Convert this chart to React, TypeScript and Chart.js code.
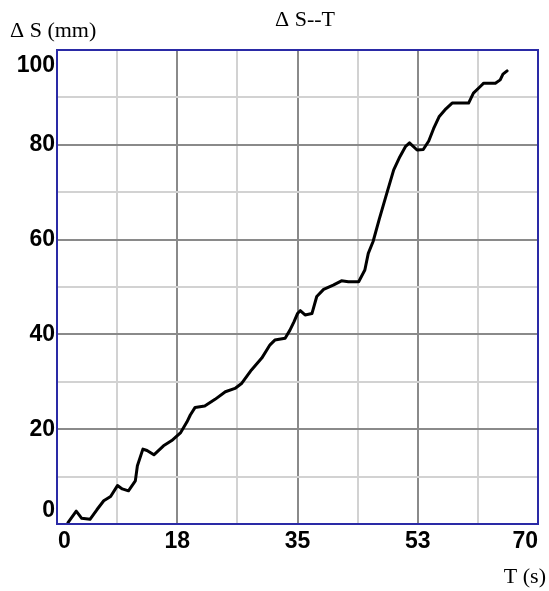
import { useEffect, useRef } from "react";
import { Chart, registerables } from "chart.js";

Chart.register(...registerables);

// ---- data ----
const timeValues = [
  1.6, 2.8, 3.6, 4.8, 5.8, 6.8, 7.8, 8.8, 9.5, 10.4, 11.4, 11.7, 12.5, 13.1, 14.1, 15.5, 16.7, 18.0,
  18.9, 19.4, 20.1, 21.5, 23.0, 24.5, 25.9, 26.9, 28.3, 29.8, 31.0, 31.7, 33.2, 33.9, 34.5, 35.0,
  35.4, 36.1, 37.1, 37.8, 38.8, 40.2, 41.4, 42.4, 43.9, 44.8, 45.3, 46.0, 46.9, 47.8, 49.0, 49.9,
  50.7, 51.3, 52.4, 53.3, 54.1, 54.8, 55.6, 56.6, 57.5, 58.5, 59.9, 60.6, 61.6, 62.1, 63.8, 64.5,
  64.9, 65.5,
];
const displacementValues = [
  0.3, 2.7, 1.2, 1.0, 3.0, 4.9, 5.8, 8.1, 7.4, 7.0, 9.1, 12.3, 15.8, 15.5, 14.6, 16.5, 17.6, 19.3,
  21.5, 23.0, 24.6, 24.9, 26.3, 27.9, 28.6, 29.7, 32.5, 35.0, 37.8, 38.8, 39.2, 40.9, 42.7, 44.4,
  45.0, 44.1, 44.4, 48.0, 49.5, 50.4, 51.3, 51.1, 51.1, 53.6, 57.1, 59.6, 64.3, 68.8, 74.7, 77.5,
  79.6, 80.4, 78.9, 79.0, 80.8, 83.4, 85.9, 87.6, 88.8, 88.8, 88.8, 90.9, 92.3, 93.0, 93.0, 93.7,
  94.9, 95.6,
];
const xTickLabels = ["0", "18", "35", "53", "70"];
const yTickLabels = ["0", "20", "40", "60", "80", "100"];
const xMax = 70;
const xGridStep = 8.75;
const yMax = 100;
const yGridStep = 10;
const chartTitle = "Δ S--T";
const yAxisTitle = "Δ S (mm)";
const xAxisTitle = "T (s)";

const DARK = "#8a8a8a";
const LIGHT = "#d2d2d2";
const FRAME = "#2a2aa6";

function gridTicks(max: number, step: number) {
  const out: { value: number }[] = [];
  const n = Math.round(max / step);
  for (let i = 0; i <= n; i++) out.push({ value: i * step });
  return out;
}

export default function App() {
  const ref = useRef<HTMLCanvasElement>(null);

  useEffect(() => {
    const prev = document.body.style.margin;
    document.body.style.margin = "0";
    const canvas = ref.current;
    if (!canvas) return;

    const textPlugin = {
      id: "textPlugin",
      afterDraw(chart: any) {
        const { ctx, chartArea: a, scales } = chart;
        const xs = scales.x;
        const ys = scales.y;
        ctx.save();
        // frame
        ctx.strokeStyle = FRAME;
        ctx.lineWidth = 2;
        ctx.strokeRect(a.left, a.top, a.right - a.left, a.bottom - a.top);

        // y tick labels
        ctx.fillStyle = "#000";
        ctx.font = "bold 23px 'Liberation Sans'";
        ctx.textAlign = "right";
        ctx.textBaseline = "middle";
        yTickLabels.forEach((lab) => {
          const py = ys.getPixelForValue(Number(lab));
          const y = Math.min(Math.max(py, a.top + 16), a.bottom - 13);
          ctx.fillText(lab, a.left - 2, y);
        });

        // x tick labels
        const xStep = xMax / (xTickLabels.length - 1);
        xTickLabels.forEach((lab, i) => {
          const px = xs.getPixelForValue(i * xStep);
          ctx.textAlign = i === 0 ? "left" : i === xTickLabels.length - 1 ? "right" : "center";
          ctx.fillText(lab, i === 0 ? a.left + 1 : px, a.bottom + 18);
        });

        // titles
        ctx.font = "22px 'Liberation Serif'";
        ctx.textAlign = "center";
        ctx.fillText(chartTitle, 305, 20);
        ctx.textAlign = "left";
        ctx.fillText(yAxisTitle, 10, 31);
        ctx.textAlign = "right";
        ctx.fillText(xAxisTitle, 546, 577);
        ctx.restore();
      },
    };

    const chart = new Chart(canvas, {
      type: "line",
      data: {
        datasets: [
          {
            data: timeValues.map((t, i) => ({ x: t, y: displacementValues[i] })),
            borderColor: "#000",
            borderWidth: 3,
            pointRadius: 0,
            tension: 0,
            fill: false,
            borderJoinStyle: "round",
            borderCapStyle: "round",
          },
        ],
      },
      options: {
        animation: false,
        responsive: false,
        layout: { padding: { left: 57, top: 50, right: 11, bottom: 67 } },
        plugins: { legend: { display: false }, tooltip: { enabled: false }, title: { display: false } },
        scales: {
          x: {
            type: "linear",
            min: 0,
            max: xMax,
            afterBuildTicks: (s: any) => {
              s.ticks = gridTicks(xMax, xGridStep);
            },
            ticks: { display: false },
            border: { display: false },
            grid: {
              drawTicks: false,
              lineWidth: 2,
              color: (c: any) => (c.index % 2 === 0 ? DARK : LIGHT),
            },
          },
          y: {
            type: "linear",
            min: 0,
            max: yMax,
            afterBuildTicks: (s: any) => {
              s.ticks = gridTicks(yMax, yGridStep);
            },
            ticks: { display: false },
            border: { display: false },
            grid: {
              drawTicks: false,
              lineWidth: 2,
              color: (c: any) => (c.index % 2 === 0 ? DARK : LIGHT),
            },
          },
        },
      },
      plugins: [textPlugin],
    });

    return () => {
      chart.destroy();
      document.body.style.margin = prev;
    };
  }, []);

  return (
    <div style={{ width: 549, height: 591 }}>
      <canvas ref={ref} width={549} height={591} style={{ display: "block" }} />
    </div>
  );
}
